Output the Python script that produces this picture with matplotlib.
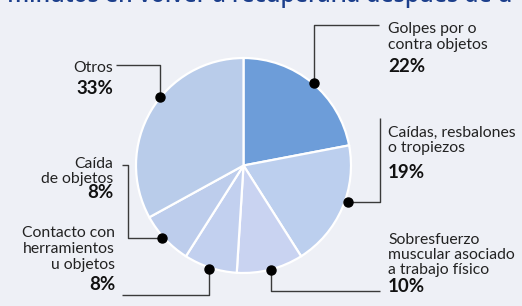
import matplotlib.pyplot as plt

etiquetas = [["Golpes por o", "contra objetos"], ["Caídas, resbalones", "o tropiezos"],
             ["Sobresfuerzo", "muscular asociado", "a trabajo físico"],
             ["Contacto con", "herramientos", "u objetos"], ["Caída", "de objetos"], ["Otros"]]
porcentajes = [22, 19, 10, 8, 8, 33]
colores = ["#6d9dd9", "#bccfee", "#c9d3f1", "#c2d0ef", "#bdcdec", "#b9ccea"]

W, H = 522, 306
plt.rcParams["font.family"] = ["Lato", "DejaVu Sans"]

fig = plt.figure(figsize=(W / 100, H / 100), dpi=100)
fig.patch.set_facecolor("#eef0f6")
ax = fig.add_axes([0, 0, 1, 1])


def py(y):
    # pixel y (desde arriba) -> coordenada de datos
    return H - y


cx, cy, r = 243.5, py(165.5), 107.5
ax.pie(porcentajes, colors=colores, startangle=90, counterclock=False,
       center=(cx, cy), radius=r, frame=True,
       wedgeprops=dict(edgecolor="white", linewidth=1.6))
ax.set_xlim(0, W)
ax.set_ylim(0, H)
ax.set_aspect("auto")
ax.axis("off")

# titulo cortado arriba
fig.text(-0.012, 1 - 1.6 / H, ") minutos en volver a recuperarla después de u",
         color="#1c3f8c", fontsize=16.5, fontweight="semibold", va="baseline",
         ha="left", family="Open Sans")

# lineas guia en px; el primer punto esta sobre el pastel
guias = [
    [(314, 83), (314, 25), (379, 25)],
    [(348, 202), (380, 202), (380, 118)],
    [(271, 270), (271, 291), (380, 291)],
    [(209, 269), (209, 295), (122, 295)],
    [(162, 238), (128, 238), (128, 165), (122, 165)],
    [(160, 97), (160, 65), (116, 65)],
]
for g in guias:
    xs = [p[0] for p in g]
    ys = [py(p[1]) for p in g]
    ax.plot(xs, ys, color="#3a3a3a", lw=1.0, solid_capstyle="butt")
    ax.plot(xs[0], ys[0], "o", color="black", ms=6.5)

# x, alineacion, y de cada linea, y del porcentaje
textos = [
    (388, "left", [29, 45], 67),
    (388, "left", [133, 148], 172),
    (388, "left", [240, 255, 270], 287),
    (115, "right", [233, 249, 265], 285),
    (113, "right", [164, 179], 193),
    (113, "right", [68], 88),
]
for (x, ha, ys, yp), lab, p in zip(textos, etiquetas, porcentajes):
    for yl, linea in zip(ys, lab):
        ax.text(x, py(yl), linea, ha=ha, va="center", fontsize=11.3, color="#222222")
    ax.text(x, py(yp), f"{p}%", ha=ha, va="center", fontsize=13.5,
            fontweight="bold", color="#111111")

fig.savefig("out.png", dpi=100, facecolor=fig.get_facecolor())
